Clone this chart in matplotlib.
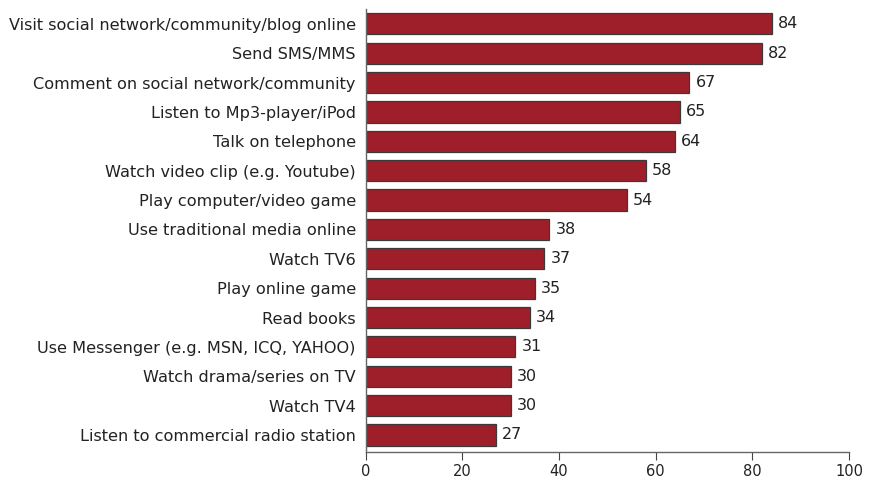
import matplotlib
matplotlib.use("Agg")
import matplotlib.pyplot as plt

plt.rcParams["font.family"] = ["DejaVu Sans"]

categories = [
    "Visit social network/community/blog online",
    "Send SMS/MMS",
    "Comment on social network/community",
    "Listen to Mp3-player/iPod",
    "Talk on telephone",
    "Watch video clip (e.g. Youtube)",
    "Play computer/video game",
    "Use traditional media online",
    "Watch TV6",
    "Play online game",
    "Read books",
    "Use Messenger (e.g. MSN, ICQ, YAHOO)",
    "Watch drama/series on TV",
    "Watch TV4",
    "Listen to commercial radio station",
]
values = [84, 82, 67, 65, 64, 58, 54, 38, 37, 35, 34, 31, 30, 30, 27]
x_ticks = [0, 20, 40, 60, 80, 100]

W, H = 869, 482
fig = plt.figure(figsize=(W / 100, H / 100), dpi=100)
left, right, top, bottom = 365.5, 849, 9.5, 452
ax = fig.add_axes([left / W, 1 - bottom / H, (right - left) / W, (bottom - top) / H])

pos = list(range(len(categories)))
ax.barh(pos, values, height=0.72, color="#9E1F2A", edgecolor="#3a3a3a", linewidth=0.9)

for p, v in zip(pos, values):
    ax.text(v + 1.3, p, str(v), va="center", ha="left", fontsize=11.5, color="#222222")

ax.set_xlim(0, 100)
ax.set_ylim(14.58, -0.49)
ax.set_yticks(pos)
ax.set_yticklabels(categories, fontsize=11.6, color="#222222")
ax.set_xticks(x_ticks)
ax.set_xticklabels([str(t) for t in x_ticks], fontsize=10.5, color="#222222")

for s in ["top", "right"]:
    ax.spines[s].set_visible(False)
for s in ["left", "bottom"]:
    ax.spines[s].set_color("#666666")
    ax.spines[s].set_linewidth(1.0)
ax.tick_params(axis="y", length=0, pad=7)
ax.tick_params(axis="x", length=6, color="#444444", pad=3)

fig.savefig("out.png", dpi=100)
